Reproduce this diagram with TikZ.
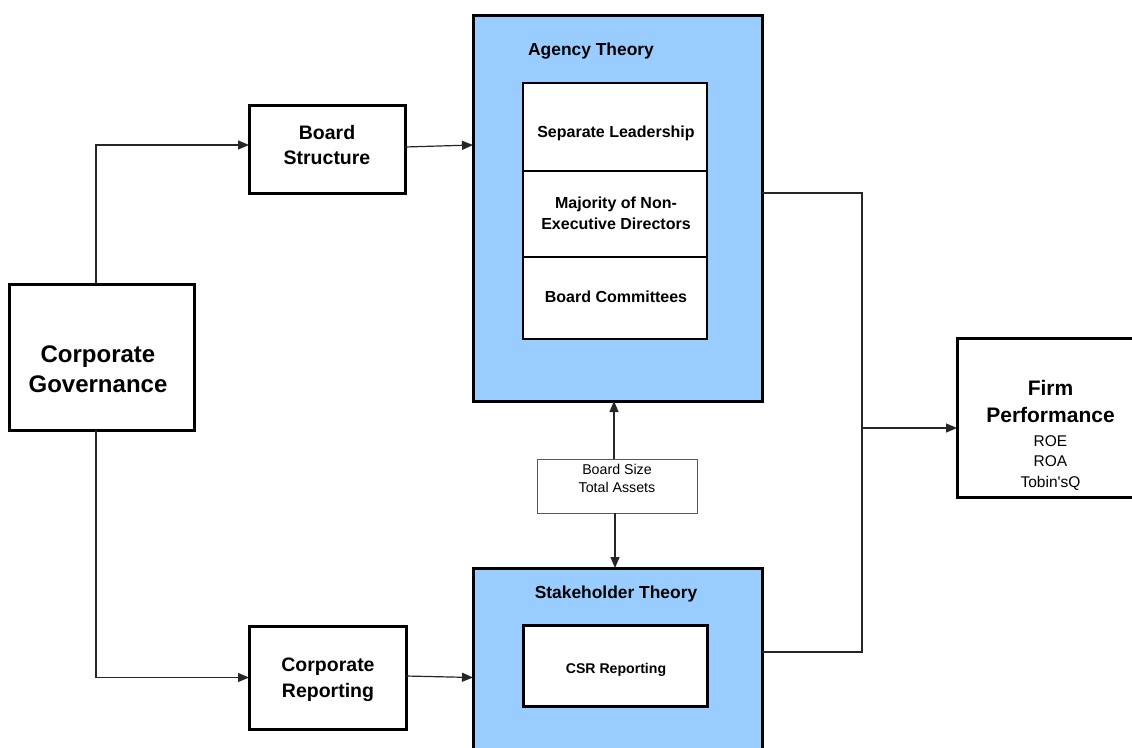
\documentclass[tikz,border=0pt]{standalone}
\usepackage{fontspec}
\setmainfont{Liberation Sans}
\newfontfamily\plainsans{Liberation Sans}[Ligatures=TeXOff]
\usetikzlibrary{arrows.meta}
\definecolor{theoryblue}{HTML}{99CCFF}
\begin{document}
\begin{tikzpicture}[x=1pt,y=-1pt,
  every node/.style={inner sep=0pt,outer sep=0pt},
  thickbox/.style={draw=black,line width=3pt,fill=white},
  theorybox/.style={draw=black,line width=3pt,fill=theoryblue},
  cellbox/.style={draw=black,line width=1.6pt,fill=white},
  varbox/.style={draw=black!65,line width=1pt,fill=white},
  conn/.style={draw=black!85,line width=1.2pt},
  arr/.style={conn,-{Triangle[length=11pt,width=9pt]}},
  lbl/.style={align=center,text=black},
]
\useasboundingbox (0,0) rectangle (1132,747);
\fill[white] (0,0) rectangle (1132,747);

% theory boxes
\node[theorybox,minimum width=289,minimum height=386] (agency) at (617.5,208) {};
\node[theorybox,minimum width=289,minimum height=200] (stake) at (617.5,668) {};
\node[lbl,anchor=base,font=\bfseries\fontsize{17.4}{21}\selectfont] (agencyt) at (591,55) {Agency Theory};
\node[lbl,anchor=base,font=\bfseries\fontsize{17.4}{21}\selectfont] (staket) at (616,598) {Stakeholder Theory};

% agency cells
\node[cellbox,minimum width=184,minimum height=88] (sl) at (615,127) {};
\node[cellbox,minimum width=184,minimum height=86] (mn) at (615,214) {};
\node[cellbox,minimum width=184,minimum height=82] (bc) at (615,298) {};
\node[lbl,anchor=base,font=\bfseries\fontsize{16}{21}\selectfont] (slt) at (616,137) {Separate Leadership};
\node[lbl,font=\bfseries\fontsize{16}{21}\selectfont] (mnt) at (616,213.5) {Majority of Non-\\Executive Directors};
\node[lbl,anchor=base,font=\bfseries\fontsize{16}{21}\selectfont] (bct) at (616,302) {Board Committees};

% CSR
\node[thickbox,minimum width=184,minimum height=81] (csr) at (615,665.5) {};
\node[lbl,anchor=base,font=\bfseries\fontsize{14.1}{18}\selectfont] (csrt) at (616,673) {CSR Reporting};

% control variables
\node[varbox,minimum width=160,minimum height=54] (bsz) at (617,486) {};
\node[lbl,font=\fontsize{14.2}{18}\selectfont] (bszt) at (617,478) {Board Size\\Total Assets};

% left boxes
\node[thickbox,minimum width=185,minimum height=146] (cg) at (101.5,357) {};
\node[lbl,font=\bfseries\fontsize{24}{30}\selectfont] (cgt) at (98,369.5) {Corporate\\Governance};
\node[thickbox,minimum width=156,minimum height=88] (bs) at (327,149) {};
\node[lbl,font=\bfseries\fontsize{19.5}{25}\selectfont] (bst) at (327,145) {Board\\Structure};
\node[thickbox,minimum width=157,minimum height=103] (cr) at (327.5,677.5) {};
\node[lbl,font=\bfseries\fontsize{19.5}{26}\selectfont] (crt) at (328,680) {Corporate\\Reporting};

% firm performance
\node[thickbox,minimum width=190,minimum height=159] (fp) at (1052,417.5) {};
\node[lbl,font=\bfseries\fontsize{21}{27}\selectfont] (fpt) at (1050.5,401) {Firm\\Performance};
\node[lbl,font=\plainsans\fontsize{15.5}{20.5}\selectfont] (fpm) at (1050.5,463) {ROE\\ROA\\Tobin'sQ};

% connectors
\draw[arr] ([xshift=-5.5]cg.north) |- ([yshift=4]bs.west);
\draw[arr] ([xshift=-5.5]cg.south) |- (cr.west);
\draw[arr] ([yshift=2]bs.east) -- ([yshift=4]bs.west -| agency.west);
\draw[arr] ([yshift=1.5]cr.east) -- (cr.west -| stake.west);
\draw[arr] ([xshift=-3]bsz.north) -- ([xshift=-3]bsz.north |- agency.south);
\draw[arr] ([xshift=-2]bsz.south) -- ([xshift=-2]bsz.south |- stake.north);

\coordinate (bust) at (862,193);
\coordinate (busb) at (862,652);
\coordinate (busm) at (862,428);
\draw[conn] (agency.east |- bust) -- (bust) -- (busb) -- (stake.east |- busb);
\draw[arr] (busm) -- (fp.west |- busm);
\end{tikzpicture}
\end{document}
